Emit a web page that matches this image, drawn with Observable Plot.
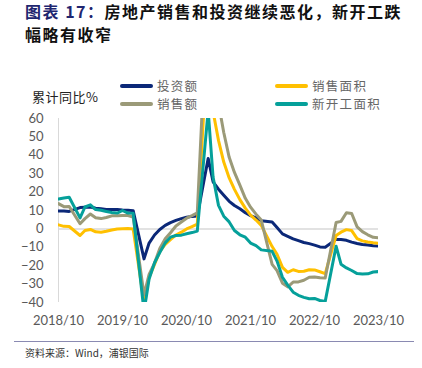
<!DOCTYPE html>
<html><head><meta charset="utf-8">
<script src="https://cdn.jsdelivr.net/npm/d3@7"></script>
<script src="https://cdn.jsdelivr.net/npm/@observablehq/plot@0.6"></script>
<style>
html,body{margin:0;padding:0;background:#fff;}
#wrap{position:relative;width:422px;height:368px;overflow:hidden;font-family:"Noto Sans CJK SC","Noto Sans",sans-serif;}
.title{position:absolute;left:25px;width:397px;font-size:16px;line-height:23.2px;letter-spacing:1.5px;font-weight:bold;color:#111;white-space:nowrap;}
#title1{top:0px;}
#title2{top:23.2px;}
.title .lead{color:#1f2670;}
#unit{position:absolute;left:32px;top:88px;font-size:13px;line-height:18px;color:#222;letter-spacing:0.5px;}
.leg{position:absolute;height:18px;line-height:18px;font-size:12.5px;color:#666;letter-spacing:1.3px;white-space:nowrap;}
.leg .sw{position:absolute;left:0;top:7px;width:33px;height:4px;border-radius:2px;}
.leg .tx{position:absolute;left:37px;top:0;}
#chart{position:absolute;left:0;top:110px;}
#rule{position:absolute;left:14px;top:341px;width:400px;height:1px;background:#8a8ab2;}
#source{position:absolute;left:25px;top:345px;font-size:10px;line-height:16px;color:#333;}
</style></head>
<body><div id="wrap">
<div class="title" id="title1"><span class="lead">图表 17：</span>房地产销售和投资继续恶化，新开工跌</div>
<div class="title" id="title2">幅略有收窄</div>
<div id="unit">累计同比%</div>
<div id="legend"></div>
<div id="chart"></div>
<div id="rule"></div>
<div id="source">资料来源：Wind，浦银国际</div>
</div>
<script>
const months = [
 "2018-10","2018-11","2018-12",
 "2019-02","2019-03","2019-04","2019-05","2019-06","2019-07","2019-08","2019-09","2019-10","2019-11","2019-12",
 "2020-02","2020-03","2020-04","2020-05","2020-06","2020-07","2020-08","2020-09","2020-10","2020-11","2020-12",
 "2021-02","2021-03","2021-04","2021-05","2021-06","2021-07","2021-08","2021-09","2021-10","2021-11","2021-12",
 "2022-02","2022-03","2022-04","2022-05","2022-06","2022-07","2022-08","2022-09","2022-10","2022-11","2022-12",
 "2023-02","2023-03","2023-04","2023-05","2023-06","2023-07","2023-08","2023-09","2023-10"
];
const investment = [9.7,9.7,9.5,
 11.6,11.8,11.9,11.2,10.9,10.6,10.5,10.5,10.3,10.2,9.9,
 -16.3,-7.7,-3.3,-0.3,1.9,3.4,4.6,5.6,6.3,6.8,7.0,
 38.3,25.6,21.6,18.3,15.0,12.7,10.9,8.8,7.2,6.0,4.4,
 3.7,0.7,-2.7,-4.0,-5.4,-6.4,-7.4,-8.0,-8.8,-9.8,-10.0,
 -5.7,-5.8,-6.2,-7.2,-7.9,-8.5,-8.8,-9.1,-9.3];
const salesArea = [2.2,1.4,1.3,
 -3.6,-0.9,-0.3,-1.6,-1.8,-1.3,-0.6,-0.1,0.1,0.2,-0.1,
 -39.9,-26.3,-19.3,-12.3,-8.4,-5.8,-3.3,-1.8,0.0,1.3,2.6,
 104.9,63.8,48.1,36.3,27.7,21.5,15.9,11.3,7.5,4.8,1.9,
 -9.6,-13.8,-20.9,-23.6,-22.2,-23.1,-23.0,-22.2,-22.3,-23.3,-24.3,
 -3.6,-1.8,-0.4,-0.9,-5.3,-6.5,-7.1,-7.5,-7.8];
const salesValue = [13.7,12.1,12.2,
 2.8,5.6,8.1,6.1,5.6,6.2,7.1,7.1,7.3,7.3,6.5,
 -35.9,-24.7,-18.6,-10.6,-5.4,-2.1,1.6,3.7,5.8,7.2,8.7,
 133.4,88.5,68.2,52.4,38.9,30.7,23.8,16.6,11.8,8.0,4.8,
 -19.3,-22.7,-29.5,-31.5,-28.9,-28.8,-27.9,-26.3,-26.1,-26.6,-26.7,
 3.5,4.1,8.8,8.4,1.1,-1.5,-3.2,-4.6,-4.9];
const newStarts = [16.3,16.8,17.2,
 6.0,11.9,13.1,10.5,10.1,9.5,8.9,8.6,10.0,8.6,8.5,
 -44.9,-27.2,-18.4,-12.8,-7.6,-4.5,-3.6,-3.4,-2.6,-2.0,-1.2,
 64.3,28.2,12.8,6.9,3.8,-0.9,-3.2,-4.5,-7.7,-9.1,-11.4,
 -12.2,-17.5,-26.3,-30.6,-34.4,-36.1,-37.2,-38.0,-37.8,-38.9,-39.4,
 -9.4,-19.2,-21.2,-22.6,-24.3,-24.5,-24.4,-23.4,-23.2];
const seriesNames = ["投资额","销售面积","销售额","新开工面积"];
const seriesColors = ["#0b2878","#ffc000","#9b9a78","#05a09a"];
const xTickLabels = ["2018/10","2019/10","2020/10","2021/10","2022/10","2023/10"];
const yTicks = [-40,-30,-20,-10,0,10,20,30,40,50,60];

const parse = d3.utcParse("%Y-%m");
const dates = months.map(parse);
const seriesValues = [investment, salesArea, salesValue, newStarts];
const rows = [];
seriesValues.forEach((vals, si) => vals.forEach((v, i) => rows.push({date: dates[i], value: v, series: seriesNames[si]})));
const xTicks = xTickLabels.map(d3.utcParse("%Y/%m"));

// legend
const legend = document.getElementById("legend");
const legPos = [[120,77],[275,77],[120,95],[275,95]];
seriesNames.forEach((n, i) => {
  const el = document.createElement("div");
  el.className = "leg";
  el.style.left = legPos[i][0] + "px";
  el.style.top = legPos[i][1] + "px";
  el.innerHTML = `<span class="sw" style="background:${seriesColors[i]}"></span><span class="tx">${n}</span>`;
  legend.appendChild(el);
});

const chart = Plot.plot({
  width: 422, height: 220,
  marginLeft: 58, marginRight: 44, marginTop: 8, marginBottom: 28,
  style: {fontFamily: "Lato, 'Open Sans', sans-serif", fontSize: "13px", color: "#595959", background: "transparent"},
  x: {type: "utc", domain: [dates[0], dates[dates.length - 1]]},
  y: {domain: [yTicks[0], yTicks[yTicks.length - 1]]},
  color: {domain: seriesNames, range: seriesColors},
  marks: [
    Plot.ruleY([0], {stroke: "#d9d9d9", strokeWidth: 1.5}),
    Plot.ruleX([dates[0]], {stroke: "#d9d9d9", strokeWidth: 1}),
    Plot.axisY({ticks: yTicks, tickSize: 0, tickPadding: 15, fontSize: 13, fill: "#595959", label: null}),
    Plot.axisX({ticks: xTicks, tickFormat: d3.utcFormat("%Y/%m"), tickSize: 0, tickPadding: 13, fontSize: 13, fill: "#595959", label: null}),
    Plot.line(rows, {x: "date", y: "value", z: "series", stroke: "series", strokeWidth: 3, curve: "linear", clip: true, strokeLinejoin: "round"})
  ]
});
document.getElementById("chart").appendChild(chart);
</script>
</body></html>
